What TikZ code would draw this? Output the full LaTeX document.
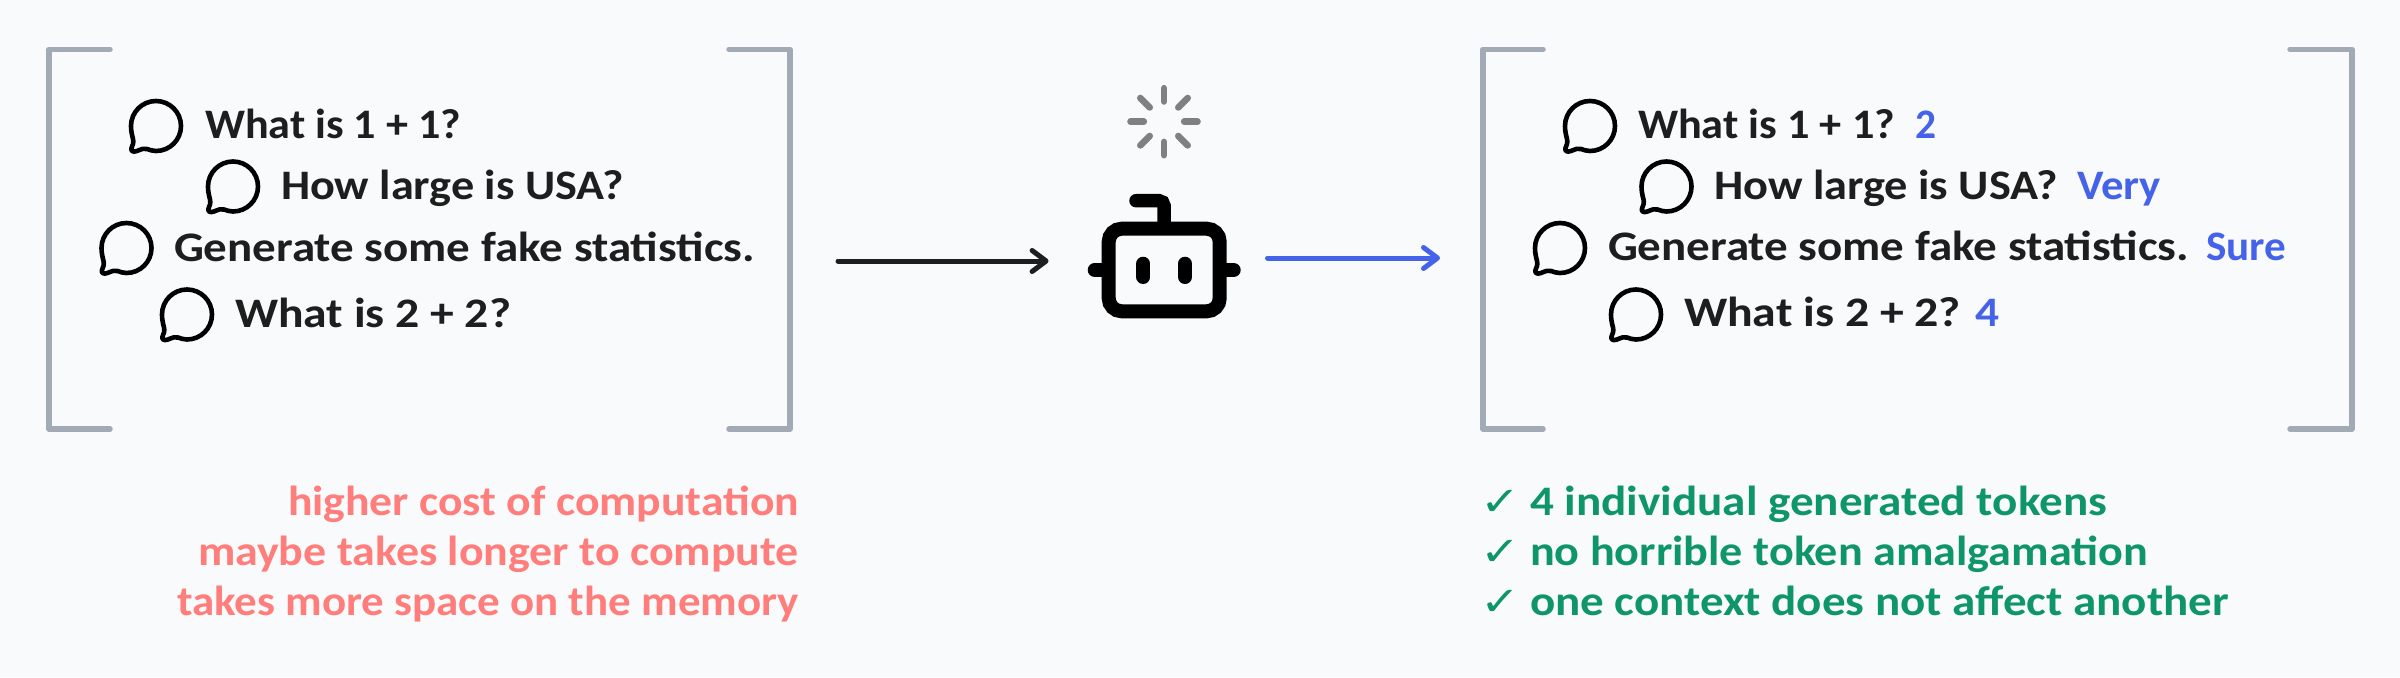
\documentclass[tikz,border=0pt]{standalone}
\usepackage{graphicx}
\usepackage{fontspec}
\setmainfont{Carlito}[BoldFont=Carlito Bold]
\newfontfamily\chkfont{DejaVu Sans Bold}
\usetikzlibrary{arrows.meta}
\definecolor{bgc}{HTML}{F9FAFC}
\definecolor{ink}{HTML}{1E1E1E}
\definecolor{brk}{HTML}{A2AAB6}
\definecolor{blu}{HTML}{4563E8}
\definecolor{redt}{HTML}{FF7D7A}
\definecolor{grn}{HTML}{0F9668}
\definecolor{spn}{HTML}{808080}
\newcommand\fitw[2]{\resizebox{#1pt}{\height}{#2}}
\tikzset{
  x=1pt,y=-1pt,
  txt/.style={anchor=base west,inner sep=0pt,outer sep=0pt,font=\fontsize{42}{42}\selectfont\bfseries},
  qtext/.style={txt,text=ink},
  atext/.style={txt,text=blu},
  rtext/.style={txt,text=redt},
  gtext/.style={txt,text=grn},
  chk/.style={anchor=base west,inner sep=0pt,outer sep=0pt,text=grn,font=\chkfont\fontsize{40}{40}\selectfont},
  bracket/.style={draw=brk,line width=5.5pt,line cap=round,line join=round},
  flow/.style={line width=5pt,line cap=round,-{Straight Barb[length=14pt,width=21pt,round]}},
  robot/.style={draw=black,line width=14pt,line cap=round},
  spoke/.style={draw=spn,line width=6.6pt,line cap=round},
  bubble/.pic={\draw[black,line width=4.6pt,line join=round]
    (-25,0) .. controls (-25,-13.8) and (-13.8,-25) .. (0,-25)
    .. controls (13.8,-25) and (25,-13.8) .. (25,0)
    .. controls (25,13.8) and (13.8,25) .. (0,25)
    .. controls (-3.5,25) and (-6,24) .. (-9,23)
    .. controls (-12,22) and (-14,23) .. (-19,25)
    .. controls (-23,26.5) and (-25.5,25) .. (-24.5,22)
    .. controls (-23.5,19) and (-22,17) .. (-23,13)
    .. controls (-24,9) and (-25,5) .. (-25,0) -- cycle;},
}
\begin{document}
\begin{tikzpicture}
\useasboundingbox (0,0) rectangle (2400,677);
\fill[bgc] (0,0) rectangle (2400,677);
% brackets
\draw[bracket] (110,49.3) -- (49,49.3) -- (49,429) -- (110,429);
\draw[bracket] (729,49.3) -- (790,49.3) -- (790,429) -- (729,429);
\draw[bracket] (1543,49.3) -- (1483,49.3) -- (1483,429) -- (1543,429);
\draw[bracket] (2290,49.3) -- (2352,49.3) -- (2352,429) -- (2290,429);
% left bubbles and questions
\pic (b1) at (156,126) {bubble};
\pic (b2) at (233,186.5) {bubble};
\pic (b3) at (126.5,248) {bubble};
\pic (b4) at (187,314.5) {bubble};
\node[qtext] (q1) at (205,138) {\fitw{256}{What is 1 + 1?}};
\node[qtext] (q2) at (281,199) {\fitw{343}{How large is USA?}};
\node[qtext] (q3) at (174,261) {\fitw{581}{Generate some fake statistics.}};
\node[qtext] (q4) at (235,327) {\fitw{276}{What is 2 + 2?}};
% right bubbles and answers
\pic (c1) at (1590,126) {bubble};
\pic (c2) at (1666.5,186.5) {bubble};
\pic (c3) at (1560,248) {bubble};
\pic (c4) at (1636,314.5) {bubble};
\node[qtext] (r1) at (1638,138) {\fitw{257}{What is 1 + 1?}};
\node[atext] (s1) at (1915,138) {\fitw{21}{2}};
\node[qtext] (r2) at (1714,199) {\fitw{344}{How large is USA?}};
\node[atext] (s2) at (2077,199) {\fitw{84}{Very}};
\node[qtext] (r3) at (1608,260) {\fitw{581}{Generate some fake statistics.}};
\node[atext] (s3) at (2206,260) {\fitw{80}{Sure}};
\node[qtext] (r4) at (1684,326) {\fitw{277}{What is 2 + 2?}};
\node[atext] (s4) at (1975,326) {\fitw{24}{4}};
% arrows
\coordinate (ia) at (838,261);
\coordinate (ib) at (1048.6,261);
\coordinate (oa) at (1267.5,258);
\coordinate (ob) at (1440,258);
\draw[flow,draw=ink] (ia) -- (ib);
\draw[flow,draw=blu] (oa) -- (ob);
% spinner
\foreach \a in {0,45,...,315}{
  \draw[spoke,shift={(1164,121.7)}] (\a:20.2) -- (\a:33.5);
}
% robot
\draw[robot,rounded corners=13pt] (1108.7,228.7) rectangle (1219.7,311.3);
\draw[robot] (1094.7,270) -- (1102,270);
\draw[robot] (1226,270) -- (1233.7,270);
\draw[robot] (1143.3,263.7) -- (1143.3,277);
\draw[robot] (1185,263.7) -- (1185,277);
\draw[robot,line width=13.5pt,rounded corners=5pt,line cap=round] (1136,200.7) -- (1164,200.7) -- (1164,226);
% red notes
\node[rtext] (n1) at (288,515) {\fitw{511}{higher cost of computation}};
\node[rtext] (n2) at (198,565) {\fitw{601}{maybe takes longer to compute}};
\node[rtext] (n3) at (177,615) {\fitw{622}{takes more space on the memory}};
% green notes
\node[chk] (k1) at (1480,515) {\fitw{40}{✓}};
\node[chk] (k2) at (1480,565) {\fitw{40}{✓}};
\node[chk] (k3) at (1480,615) {\fitw{40}{✓}};
\node[gtext] (g1) at (1530,515) {\fitw{577}{4 individual generated tokens}};
\node[gtext] (g2) at (1530,565) {\fitw{618}{no horrible token amalgamation}};
\node[gtext] (g3) at (1530,615) {\fitw{699}{one context does not affect another}};
\end{tikzpicture}
\end{document}
